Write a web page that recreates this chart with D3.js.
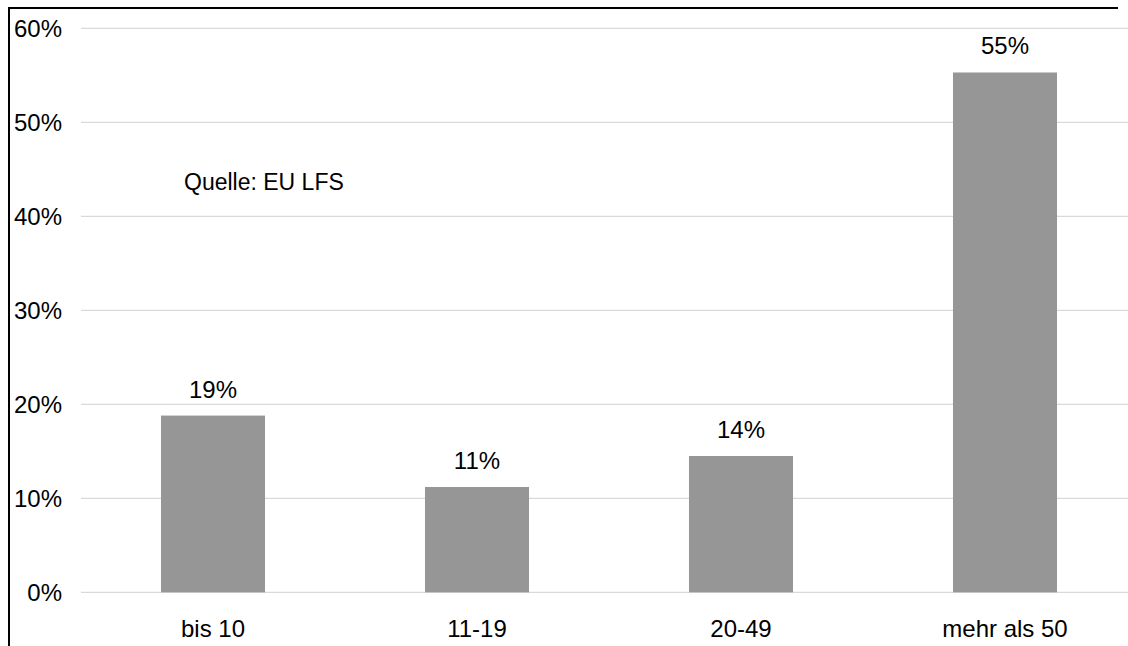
<!DOCTYPE html>
<html>
<head>
<meta charset="utf-8">
<script src="https://cdn.jsdelivr.net/npm/d3@7"></script>
<style>
  html, body { margin: 0; padding: 0; background: #fff; }
  svg { display: block; }
  text { font-family: "Liberation Sans", Arial, sans-serif; fill: #000; }
</style>
</head>
<body>
<svg id="chart" width="1128" height="646"></svg>
<script>
// Betriebsgröße (Beschäftigte) und Anteil
const categories = ["bis 10", "11-19", "20-49", "mehr als 50"];
const shares = [0.188, 0.112, 0.145, 0.553];
const yTicks = [0, 0.1, 0.2, 0.3, 0.4, 0.5, 0.6];
const sourceNote = "Quelle: EU LFS";

const svg = d3.select("#chart");
const W = 1128, H = 646;

const plot = { left: 81, right: 1137, top: 28.3, bottom: 592.3 };

const x = d3.scaleBand()
  .domain(categories)
  .range([plot.left, plot.right])
  .paddingInner(0.606)
  .paddingOuter(0.303);

const y = d3.scaleLinear()
  .domain([0, 0.6])
  .range([plot.bottom, plot.top]);

const pct = d3.format(".0%");

// Gridlines
svg.append("g")
  .selectAll("line")
  .data(yTicks)
  .join("line")
  .attr("x1", plot.left)
  .attr("x2", W)
  .attr("y1", d => y(d))
  .attr("y2", d => y(d))
  .attr("stroke", "#d9d9d9")
  .attr("stroke-width", 1.3);

// Y axis labels
const yAxis = d3.axisLeft(y).tickValues(yTicks).tickFormat(pct).tickSize(0).tickPadding(0);
const gy = svg.append("g").attr("transform", "translate(62,0)").call(yAxis);
gy.select(".domain").remove();
gy.selectAll("text")
  .attr("font-size", 24)
  .attr("font-family", "Liberation Sans, Arial, sans-serif")
  .attr("fill", "#000")
  .attr("dy", "0.35em");

// Bars
svg.append("g")
  .selectAll("rect")
  .data(categories)
  .join("rect")
  .attr("x", d => x(d))
  .attr("width", x.bandwidth())
  .attr("y", (d, i) => y(shares[i]))
  .attr("height", (d, i) => y(0) - y(shares[i]))
  .attr("fill", "#969696");

// Value labels
svg.append("g")
  .selectAll("text")
  .data(categories)
  .join("text")
  .attr("x", d => x(d) + x.bandwidth() / 2)
  .attr("y", (d, i) => y(shares[i]) - 18)
  .attr("text-anchor", "middle")
  .attr("font-size", 24)
  .text((d, i) => pct(shares[i]));

// Category axis labels
const xAxis = d3.axisBottom(x).tickSize(0).tickPadding(0);
const gx = svg.append("g").attr("transform", `translate(0,${plot.bottom})`).call(xAxis);
gx.select(".domain").remove();
gx.selectAll("text")
  .attr("font-size", 24)
  .attr("font-family", "Liberation Sans, Arial, sans-serif")
  .attr("fill", "#000")
  .attr("dy", 0)
  .attr("y", 45);

// Source note
svg.append("text")
  .attr("x", 184)
  .attr("y", 190)
  .attr("font-size", 23)
  .text(sourceNote);

// Frame (left and top edges)
svg.append("line")
  .attr("x1", 9).attr("x2", 9)
  .attr("y1", 7).attr("y2", H)
  .attr("stroke", "#000").attr("stroke-width", 2);
svg.append("line")
  .attr("x1", 8).attr("x2", 1118)
  .attr("y1", 8).attr("y2", 8)
  .attr("stroke", "#000").attr("stroke-width", 2);
</script>
</body>
</html>
